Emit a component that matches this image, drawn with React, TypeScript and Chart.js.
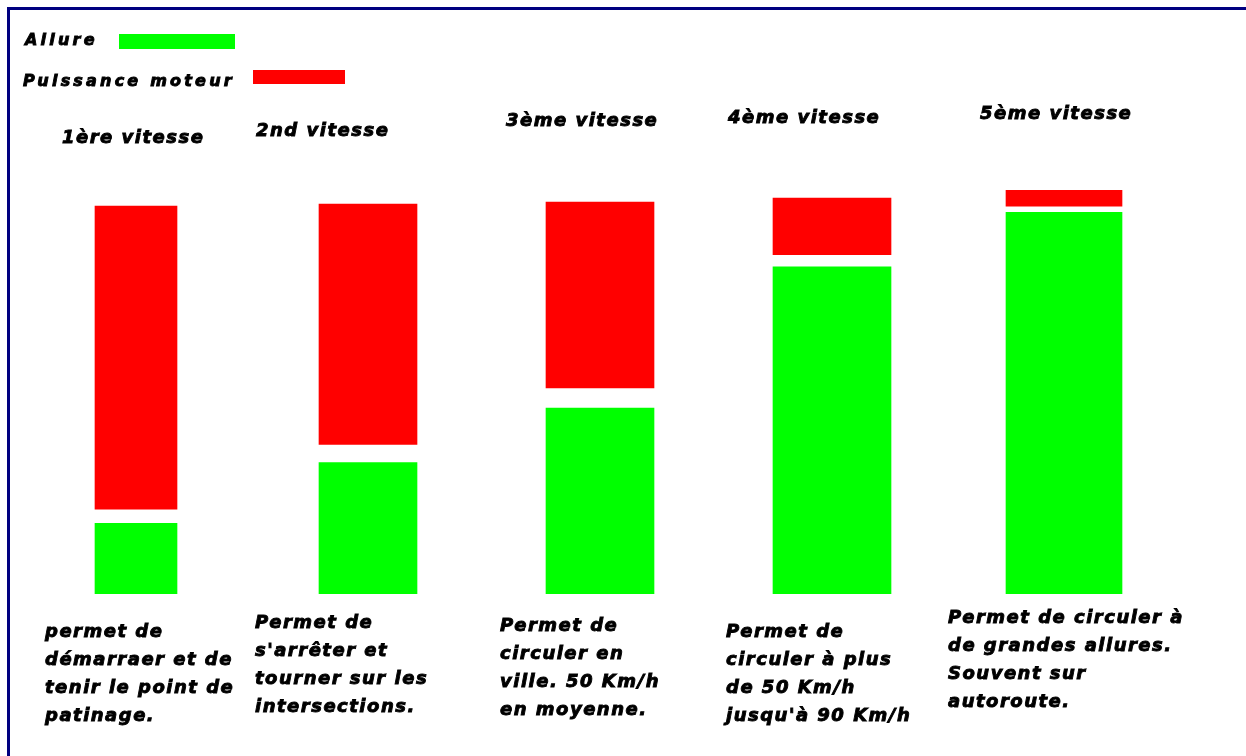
import React, { useEffect, useRef } from "react";
import { Chart, registerables } from "chart.js";

Chart.register(...registerables);

// ---------- data ----------
const gears = ["1ère vitesse", "2nd vitesse", "3ème vitesse", "4ème vitesse", "5ème vitesse"];
const seriesNames = ["Allure", "Puissance moteur"];
const allure = [17.5, 32.5, 46, 81, 94.5];
const puissanceStart = [21, 37, 51, 84, 96];
const puissanceEnd = [96, 96.5, 97, 98, 100];
const descriptions = [
  ["permet de", "démarraer et de", "tenir le point de", "patinage."],
  ["Permet de", "s'arrêter et", "tourner sur les", "intersections."],
  ["Permet de", "circuler en", "ville. 50 Km/h", "en moyenne."],
  ["Permet de", "circuler à plus", "de 50 Km/h", "jusqu'à 90 Km/h"],
  ["Permet de circuler à", "de grandes allures.", "Souvent sur", "autoroute."],
];

// ---------- styles / layout ----------
const GREEN = "#00ff00";
const RED = "#ff0000";
const NAVY = "#000080";
const W = 1246;
const H = 756;
const BAR_WIDTHS = [82, 98, 108, 118, 116];
const TITLE_POS: [number, number][] = [
  [62, 143],
  [256, 136],
  [506, 126],
  [728, 123],
  [980, 119],
];
const DESC_POS: [number, number][] = [
  [45, 637],
  [255, 628],
  [500, 631],
  [726, 637],
  [948, 623],
];
const LINE_H = 28;
const FONT = "'DejaVu Sans', 'Liberation Sans', sans-serif";

function heavyText(ctx: CanvasRenderingContext2D, text: string, x: number, y: number) {
  ctx.fillText(text, x, y);
  ctx.strokeText(text, x, y);
}

const annotationPlugin = {
  id: "gearAnnotations",
  afterDraw(chart: any) {
    const ctx = chart.ctx as CanvasRenderingContext2D;
    ctx.save();
    ctx.fillStyle = "#000";
    ctx.strokeStyle = "#000";
    ctx.lineWidth = 0.9;
    ctx.lineJoin = "miter";
    ctx.textAlign = "left";
    ctx.textBaseline = "alphabetic";

    // titles and descriptions
    ctx.font = `italic bold 18px ${FONT}`;
    (ctx as any).letterSpacing = "1.5px";
    gears.forEach((g, i) => heavyText(ctx, g, TITLE_POS[i][0], TITLE_POS[i][1]));
    descriptions.forEach((lines, i) =>
      lines.forEach((line, k) => heavyText(ctx, line, DESC_POS[i][0], DESC_POS[i][1] + k * LINE_H))
    );

    // legend (text followed by swatch)
    ctx.font = `italic bold 16px ${FONT}`;
    (ctx as any).letterSpacing = "3.2px";
    heavyText(ctx, seriesNames[0], 25, 45);
    heavyText(ctx, seriesNames[1], 23, 86);
    ctx.fillStyle = GREEN;
    ctx.fillRect(119, 34, 116, 15);
    ctx.fillStyle = RED;
    ctx.fillRect(253, 70, 92, 14);
    ctx.restore();
  },
};

export default function App() {
  const canvasRef = useRef<HTMLCanvasElement | null>(null);

  useEffect(() => {
    const canvas = canvasRef.current;
    if (!canvas) return;

    const datasets: any[] = [];
    gears.forEach((_, i) => {
      datasets.push({
        label: seriesNames[0],
        data: gears.map((__, j) => (j === i ? [0, allure[i]] : null)),
        backgroundColor: GREEN,
        borderWidth: 0,
        barThickness: BAR_WIDTHS[i],
        grouped: false,
      });
      datasets.push({
        label: seriesNames[1],
        data: gears.map((__, j) => (j === i ? [puissanceStart[i], puissanceEnd[i]] : null)),
        backgroundColor: RED,
        borderWidth: 0,
        barThickness: BAR_WIDTHS[i],
        grouped: false,
      });
    });

    const chart = new Chart(canvas, {
      type: "bar",
      data: { labels: gears, datasets },
      options: {
        responsive: false,
        animation: false,
        devicePixelRatio: 1,
        layout: { padding: { left: 20, right: 66, top: 190, bottom: 162 } },
        plugins: {
          legend: { display: false },
          title: { display: false },
          tooltip: { enabled: false },
        },
        scales: {
          x: { type: "category", display: false, offset: true, grid: { display: false } },
          y: { type: "linear", display: false, min: 0, max: 100, grid: { display: false } },
        },
      },
      plugins: [annotationPlugin],
    });

    return () => chart.destroy();
  }, []);

  return (
    <div
      style={{
        position: "absolute",
        left: 0,
        top: 0,
        width: W,
        height: H,
        overflow: "hidden",
        background: "#fff",
      }}
    >
      <div
        style={{
          position: "absolute",
          left: 7,
          top: 7,
          width: W + 20,
          height: H + 20,
          borderTop: `3px solid ${NAVY}`,
          borderLeft: `3px solid ${NAVY}`,
          boxSizing: "border-box",
        }}
      />
      <canvas
        ref={canvasRef}
        width={W}
        height={H}
        style={{ position: "absolute", left: 0, top: 0, width: W, height: H, display: "block" }}
      />
    </div>
  );
}
